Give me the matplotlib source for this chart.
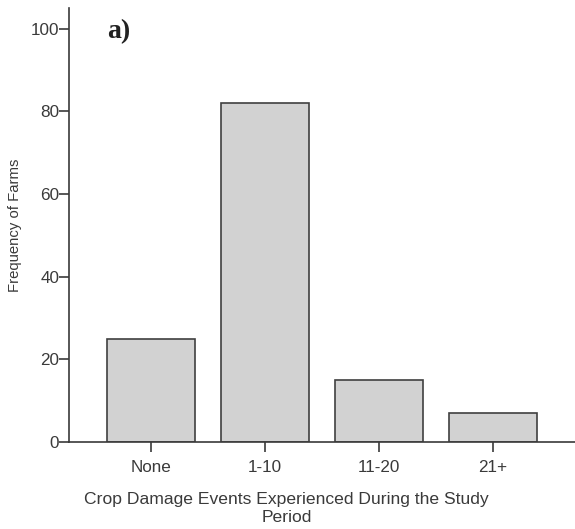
import matplotlib
matplotlib.use('Agg')
import matplotlib.pyplot as plt

categories = ['None', '1-10', '11-20', '21+']
frequency = [25, 82, 15, 7]
y_ticks = [0, 20, 40, 60, 80, 100]

plt.rcParams['font.family'] = ['Liberation Sans', 'DejaVu Sans']
ink = '#3a3a3a'

fig = plt.figure(figsize=(5.75, 5.29), dpi=100)
ax = fig.add_axes([0.12, 0.1645, 0.88, 0.8205])

x = list(range(len(categories)))
ax.bar(x, frequency, width=0.77, color='#d2d2d2', edgecolor='#404040', linewidth=1.2)

ax.set_xlim(-0.72, 3.72)
ax.set_ylim(0, 105)
ax.set_xticks(x)
ax.set_xticklabels(categories)
ax.set_yticks(y_ticks)

for side in ['top', 'right']:
    ax.spines[side].set_visible(False)
for side in ['left', 'bottom']:
    ax.spines[side].set_color(ink)
    ax.spines[side].set_linewidth(1.2)

ax.tick_params(axis='both', colors=ink, labelsize=12.3, length=7, width=1.2, labelcolor=ink)
ax.tick_params(axis='x', pad=6)
ax.tick_params(axis='y', pad=0)

ax.set_ylabel('Frequency of Farms', fontsize=10.7, color=ink, labelpad=6)
ax.set_xlabel('Crop Damage Events Experienced During the Study\nPeriod', fontsize=12.6,
              color=ink, labelpad=11, linespacing=1.3)
ax.xaxis.set_label_coords(0.43, -0.115)

ax.text(0.075, 0.975, 'a)', transform=ax.transAxes, fontsize=20, fontweight='bold',
        family='Liberation Serif', color='#222222', va='top')

fig.savefig('out.png', dpi=100)
